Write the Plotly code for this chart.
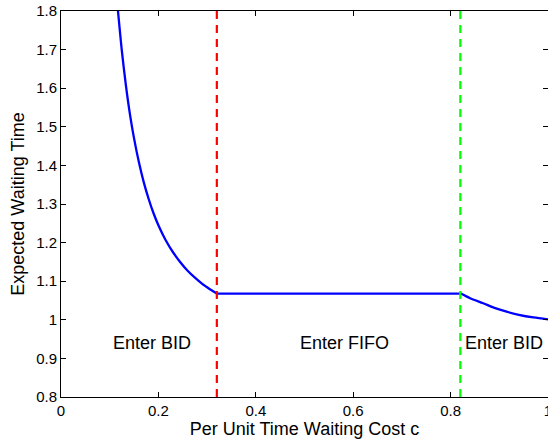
import plotly.graph_objects as go

# Segment 1: BID region (decreasing)
c_bid1 = [0.117, 0.125, 0.133, 0.142, 0.150, 0.160, 0.170, 0.180, 0.190, 0.200,
          0.215, 0.230, 0.245, 0.260, 0.275, 0.290, 0.305, 0.320]
w_bid1 = [1.800, 1.696, 1.610, 1.529, 1.470, 1.408, 1.356, 1.313, 1.276, 1.245,
          1.206, 1.175, 1.149, 1.127, 1.109, 1.093, 1.080, 1.068]
# Segment 2: FIFO region (flat)
c_fifo = [0.320, 0.821]
w_fifo = [1.068, 1.068]
# Segment 3: BID region (decreasing)
c_bid2 = [0.821, 0.840, 0.867, 0.890, 0.915, 0.940, 0.970, 1.000]
w_bid2 = [1.068, 1.056, 1.043, 1.031, 1.021, 1.013, 1.006, 1.001]

thresholds = [0.32, 0.82]
threshold_colors = ["#ff0000", "#00ff00"]

region_labels = ["Enter BID", "Enter FIFO", "Enter BID"]
region_x = [0.187, 0.583, 0.91]
region_y = [0.94, 0.94, 0.94]

x_ticks = [0, 0.2, 0.4, 0.6, 0.8, 1]
x_ticktext = ["0", "0.2", "0.4", "0.6", "0.8", "1"]
y_ticks = [0.8, 0.9, 1.0, 1.1, 1.2, 1.3, 1.4, 1.5, 1.6, 1.7, 1.8]
y_ticktext = ["0.8", "0.9", "1", "1.1", "1.2", "1.3", "1.4", "1.5", "1.6", "1.7", "1.8"]

fig = go.Figure()
fig.add_trace(go.Scatter(x=c_bid1, y=w_bid1, mode="lines",
                         line=dict(color="#0000ff", width=2.3, shape="spline", smoothing=0.8),
                         showlegend=False))
fig.add_trace(go.Scatter(x=c_fifo, y=w_fifo, mode="lines", line=dict(color="#0000ff", width=2.3),
                         showlegend=False))
fig.add_trace(go.Scatter(x=c_bid2, y=w_bid2, mode="lines",
                         line=dict(color="#0000ff", width=2.3, shape="spline", smoothing=0.8),
                         showlegend=False))

for xv, col in zip(thresholds, threshold_colors):
    fig.add_trace(go.Scatter(x=[xv, xv], y=[0.8, 1.8], mode="lines",
                             line=dict(color=col, width=2.2, dash="8px,6px"), showlegend=False))

font_family = "Liberation Sans, Arial, sans-serif"
for txt, xv, yv in zip(region_labels, region_x, region_y):
    fig.add_annotation(x=xv, y=yv, text=txt, showarrow=False,
                       font=dict(family=font_family, size=18, color="black"))

fig.update_layout(
    width=548, height=443,
    margin=dict(l=61, r=0, t=11, b=46),
    plot_bgcolor="white", paper_bgcolor="white",
    font=dict(family=font_family, size=15, color="black"),
)
fig.update_xaxes(range=[0, 1], tickvals=x_ticks, ticktext=x_ticktext, showgrid=False, zeroline=False,
                 showline=True, linecolor="black", linewidth=1, mirror="ticks",
                 ticks="inside", ticklen=5, tickcolor="black", ticklabeloverflow="allow",
                 automargin=False,
                 title=dict(text="Per Unit Time Waiting Cost c", font=dict(size=18), standoff=2))
fig.update_yaxes(range=[0.8, 1.8], tickvals=y_ticks, ticktext=y_ticktext, showgrid=False, zeroline=False,
                 showline=True, linecolor="black", linewidth=1, mirror="ticks",
                 ticks="inside", ticklen=5, tickcolor="black", automargin=False,
                 title=dict(text="Expected Waiting Time", font=dict(size=18), standoff=6))

fig.write_html("out.html")
